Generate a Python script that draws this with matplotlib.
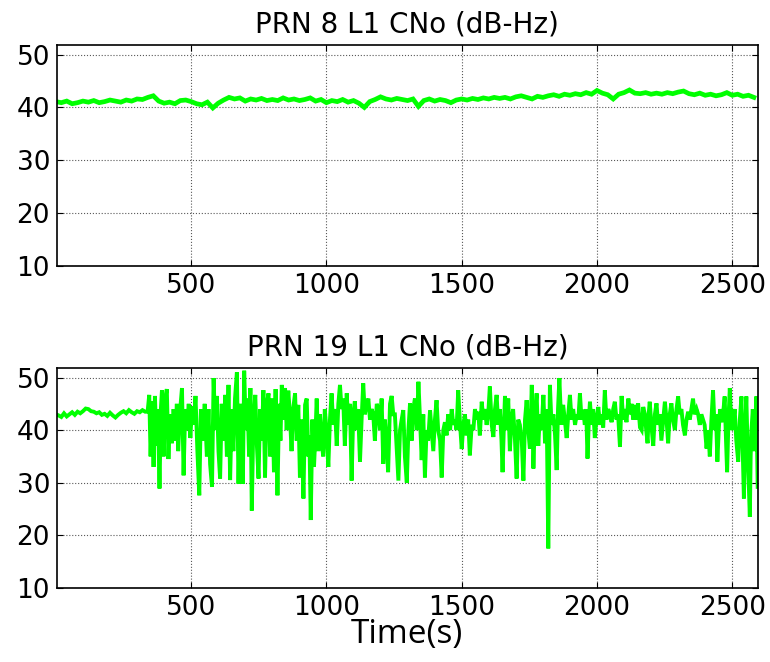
import numpy as np
import matplotlib
matplotlib.use("Agg")
import matplotlib.pyplot as plt

# PRN 8, sampled every 20 s
t8 = np.arange(0, 2600, 20)
cno8 = [41.1, 40.9, 41.2, 40.7, 40.9, 41.2, 41.0, 41.3, 40.9, 41.1,
        41.4, 41.2, 41.0, 41.4, 41.2, 41.6, 41.5, 41.9, 42.2, 41.2,
        40.8, 41.0, 40.7, 41.3, 41.4, 41.1, 40.7, 40.5, 41.0, 39.9,
        40.8, 41.4, 41.9, 41.6, 41.8, 41.2, 41.6, 41.4, 41.7, 41.3,
        41.5, 41.3, 41.8, 41.4, 41.6, 41.3, 41.5, 41.8, 41.2, 41.5,
        40.9, 41.3, 41.1, 41.5, 41.0, 41.3, 40.8, 40.0, 41.1, 41.5,
        42.0, 41.6, 41.4, 41.7, 41.5, 41.3, 41.6, 40.2, 41.3, 41.6,
        41.2, 41.5, 41.3, 40.9, 41.4, 41.6, 41.4, 41.7, 41.5, 41.8,
        41.6, 41.9, 41.7, 41.9, 41.6, 42.0, 42.2, 41.9, 41.6, 42.1,
        41.9, 42.2, 42.4, 42.1, 42.5, 42.3, 42.6, 42.4, 42.8, 42.5,
        43.2, 42.7, 42.4, 41.6, 42.5, 42.8, 43.3, 42.7, 42.6, 42.8,
        42.5, 42.7, 42.5, 42.8, 42.6, 42.9, 43.1, 42.6, 42.4, 42.7,
        42.3, 42.5, 42.2, 42.4, 42.8, 42.3, 42.5, 42.1, 42.3, 41.9]

# PRN 19, time/value pairs
t19 = [1, 10, 20, 30, 40, 50, 60, 70, 80, 90, 100, 110, 120, 130, 140, 150, 160, 170,
       180, 190, 200, 210, 220, 230, 240, 250, 260, 270, 280, 290, 300, 310, 320, 330,
       339, 345, 350, 356, 361, 366, 372, 377, 383, 388, 392, 398, 404, 410, 416, 422,
       429, 435, 441, 447, 452, 458, 466, 472, 478, 485, 491, 497, 503, 510, 516, 523,
       530, 536, 543, 550, 558, 564, 570, 577, 583, 589, 595, 601, 607, 613, 620, 626,
       632, 638, 644, 650, 656, 662, 669, 675, 681, 687, 691, 696, 702, 708, 714, 719,
       724, 730, 737, 743, 749, 755, 761, 767, 773, 779, 786, 792,
       800, 806, 812, 819, 825, 830, 835, 841, 847, 853, 859, 865, 871, 877, 884, 890,
       896, 902, 908, 915, 921, 927, 933, 937, 942, 948, 954, 960, 964, 970, 976, 982,
       988, 994, 1000, 1007, 1013, 1019, 1025, 1032, 1038, 1044, 1050, 1056, 1062, 1068,
       1075, 1081, 1087, 1093, 1099, 1105, 1111, 1117, 1124, 1130, 1136, 1142, 1149, 1155,
       1161, 1167, 1173, 1179, 1186, 1192, 1198, 1204, 1210, 1216, 1222, 1228, 1235, 1241, 1247,
       1253, 1259, 1266, 1272, 1278, 1284, 1290, 1297, 1303, 1309, 1315, 1321, 1327, 1334,
       1340, 1346, 1352, 1358, 1364, 1370, 1376, 1383, 1389, 1395, 1401, 1407, 1413, 1420,
       1426, 1432, 1438, 1444, 1450, 1457, 1463, 1469, 1475, 1481, 1487, 1494, 1500, 1506,
       1512, 1518, 1524, 1530, 1537, 1543, 1549, 1555, 1561, 1567, 1574, 1580, 1586, 1592,
       1598, 1604, 1611, 1617, 1623, 1629, 1635, 1641, 1647, 1651, 1656, 1660, 1666, 1672,
       1678, 1684, 1690, 1697, 1703, 1709,
       1715, 1722, 1728, 1734, 1740, 1746, 1752, 1759, 1765, 1771, 1777, 1783, 1789, 1795,
       1802, 1808, 1814, 1820, 1826, 1832, 1839, 1845, 1851, 1856, 1861, 1868, 1875, 1881,
       1888, 1894, 1900, 1906, 1912, 1919, 1925, 1931, 1937, 1943, 1949, 1955, 1960, 1965,
       1970, 1974, 1980, 1986, 1992, 1998, 2005, 2011, 2017, 2023, 2029, 2035, 2042, 2048,
       2054, 2060, 2066, 2072, 2078, 2085, 2091, 2097, 2103, 2109, 2116, 2122, 2128, 2134,
       2140, 2146, 2152, 2159, 2165, 2171,
       2177, 2182, 2187, 2191, 2195, 2201, 2208, 2214, 2220, 2226, 2232, 2238, 2245, 2251,
       2257, 2263, 2269, 2275, 2281, 2288, 2294, 2300, 2306, 2312, 2318, 2325, 2331, 2337,
       2343, 2349, 2355, 2361, 2368, 2374, 2380, 2386, 2392, 2398, 2405, 2411, 2417, 2423,
       2429, 2435, 2440, 2445, 2450, 2455, 2460, 2466, 2472, 2477, 2481, 2486, 2491, 2497,
       2503, 2509, 2515, 2522, 2528, 2534, 2538, 2543, 2548, 2552, 2557, 2561, 2565, 2568,
       2571, 2576, 2580, 2583, 2586, 2589, 2594]
cno19 = [43.0, 42.8, 42.5, 43.2, 42.6, 43.0, 43.4, 42.9, 43.5, 43.2, 43.6, 44.1, 44.0, 43.6,
         43.5, 43.2, 43.4, 42.9, 43.1, 42.7, 43.3, 42.8, 42.4, 42.9, 43.3, 43.6, 43.2, 43.8,
         43.4, 43.1, 43.6, 43.4, 43.8, 43.5,
         43.5, 46.7, 35.0, 45.5, 33.0, 46.5, 37.0, 44.0, 28.9, 44.0, 47.6, 35.0, 46.0, 47.8,
         34.5, 43.0, 37.5, 44.0, 38.0, 45.0, 36.0, 43.0, 48.0, 31.4, 44.0, 40.0, 45.0, 38.5,
         44.5, 41.0, 46.5, 36.0, 27.6, 44.0, 38.0, 45.0, 35.0, 44.0, 33.5, 29.2, 49.9, 40.0,
         46.5, 36.0, 30.8, 45.0, 38.0, 46.7, 35.0, 48.6, 30.5, 44.0, 36.0, 46.0, 51.0, 29.8,
         45.0, 38.0, 29.8, 51.3, 40.0, 46.0, 35.0, 48.0, 24.7, 42.0, 46.7, 37.0, 30.8, 44.0,
         38.0, 47.6, 31.0, 45.0, 47.0, 35.0,
         46.0, 32.0, 47.8, 27.6, 45.0, 38.0, 48.6, 42.0, 48.0, 40.0, 47.5, 43.0, 36.0, 44.0,
         47.0, 38.0, 44.8, 31.0, 42.0, 27.0, 44.8, 46.0, 35.0, 39.0, 22.9, 42.0, 33.0, 40.0,
         46.0, 36.0, 43.0, 38.0, 35.0, 44.0, 40.0, 33.0, 42.0, 47.0, 41.0, 44.0, 37.0, 45.0,
         48.6, 44.0, 46.0, 37.0, 47.0, 41.0, 45.0, 30.4, 43.0, 45.5, 40.0, 44.0, 34.0, 42.0,
         48.9, 43.0, 45.0, 46.0, 42.0, 44.0, 43.0, 38.0, 45.0, 44.0, 40.0, 46.0, 33.6, 42.0,
         38.0, 32.0, 45.0, 46.5, 43.0,
         43.0, 37.0, 30.4, 40.0, 42.0, 43.8, 35.0, 30.0, 40.0, 45.1, 38.0, 44.0, 46.0, 40.0,
         49.2, 42.0, 34.3, 43.0, 31.0, 40.0, 38.0, 43.8, 40.0, 36.0, 42.0, 45.7, 40.0, 38.0,
         31.0, 40.0, 41.5, 39.0, 43.0, 40.0, 44.0, 41.0, 42.0, 40.0, 47.6, 41.0, 36.4, 41.0,
         43.0, 39.0, 42.0, 35.2, 41.0, 40.0, 44.0, 42.0, 43.5, 39.0, 45.4, 42.0, 44.0, 41.0,
         43.0, 48.3, 41.0, 38.7, 44.0, 46.7, 41.0, 44.0, 38.0, 32.0, 41.0, 46.5, 40.0, 46.0,
         36.0, 42.0, 44.0, 38.0, 30.8, 42.0,
         41.0, 38.0, 30.4, 42.0, 45.7, 40.0, 36.5, 48.6, 32.7, 43.0, 47.0, 37.0, 43.0, 40.0,
         46.7, 37.5, 44.0, 17.5, 48.6, 41.0, 43.0, 39.0, 32.4, 44.0, 49.9, 41.0, 44.8, 42.0,
         38.5, 43.0, 46.7, 42.0, 44.0, 41.0, 43.0, 42.0, 47.0, 42.0, 43.9, 41.0, 44.0, 34.6,
         42.0, 45.4, 41.0, 44.0, 38.5, 42.0, 44.4, 41.0, 43.0, 40.5, 47.6, 42.0, 44.0, 43.0,
         41.5, 44.0, 45.4, 42.0, 43.0, 36.8, 46.5, 42.0, 44.0, 41.5, 46.0, 43.0, 45.0, 42.0,
         44.8, 42.0, 45.1, 40.5, 40.0, 44.4,
         43.0, 40.0, 37.5, 43.0, 45.4, 41.0, 37.0, 43.0, 45.1, 41.0, 43.0, 38.0, 42.0, 45.4,
         42.0, 37.5, 43.0, 45.1, 42.0, 40.0, 44.0, 46.4, 43.0, 44.0, 41.0, 39.0, 42.0, 43.5,
         42.0, 44.0, 46.0, 43.0, 44.0, 43.0, 41.0, 43.0, 42.0, 41.0, 36.5, 40.0, 35.0, 42.0,
         47.6, 40.0, 43.0, 34.0, 40.0, 44.0, 41.5, 43.0, 46.4, 38.0, 32.0, 42.0, 48.0, 40.0,
         41.5, 44.0, 38.0, 34.0, 42.0, 46.4, 38.0, 27.0, 40.0, 46.4, 36.0, 30.0, 23.5, 35.0,
         40.0, 44.0, 38.0, 36.0, 42.0, 46.4, 29.2]

titles = ["PRN 8 L1 CNo (dB-Hz)", "PRN 19 L1 CNo (dB-Hz)"]
xticks = [500, 1000, 1500, 2000, 2500]
yticks = [10, 20, 30, 40, 50]

plt.rcParams['font.family'] = ['DejaVu Sans']

fig = plt.figure(figsize=(7.7, 6.62), dpi=100)
ax1 = fig.add_axes([0.074, 0.598, 0.910, 0.334])
ax2 = fig.add_axes([0.074, 0.112, 0.910, 0.332])

for ax, t, v, title, lw in [(ax1, t8, cno8, titles[0], 3.4), (ax2, t19, cno19, titles[1], 2.8)]:
    ax.plot(t, v, color='#00ff00', lw=lw, solid_joinstyle='miter')
    ax.set_xlim(4, 2594)
    ax.set_ylim(10, 51.8)
    ax.set_xticks(xticks)
    ax.set_yticks(yticks)
    ax.grid(True, linestyle=':', color='0.35', lw=0.8)
    ax.tick_params(direction='in', length=4, width=0.8, top=True, right=True,
                   labelsize=19, pad=5)
    for s in ax.spines.values():
        s.set_linewidth(1.2)
    ax.set_title(title, fontsize=20, pad=9)

ax2.set_xlabel("Time(s)", fontsize=24, family=['Open Sans', 'DejaVu Sans'], labelpad=-2)

fig.savefig("out.png", dpi=100)
